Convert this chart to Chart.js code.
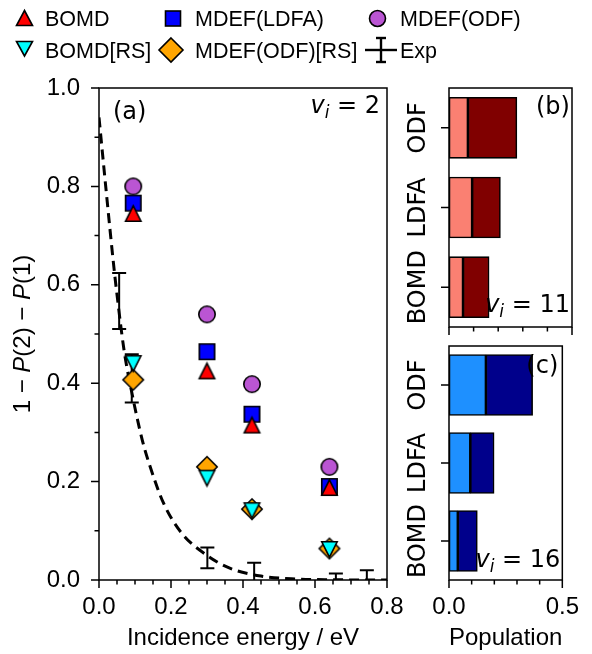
<!DOCTYPE html>
<html>
<head>
<meta charset="utf-8">
<script src="https://cdn.jsdelivr.net/npm/chart.js@4.4.0/dist/chart.umd.min.js"></script>
<style>
  html, body { margin: 0; padding: 0; background: #fff; }
  #wrap { position: relative; width: 592px; height: 654px; overflow: hidden; }
  canvas, svg { position: absolute; }
</style>
</head>
<body>
<div id="wrap">
  <canvas id="chartA" width="430" height="654" style="left:0;top:0"></canvas>
  <canvas id="chartB" width="212" height="340" style="left:380px;top:0"></canvas>
  <canvas id="chartC" width="212" height="324" style="left:380px;top:330px"></canvas>
  <svg width="592" height="70" style="left:0;top:0" font-family="Liberation Sans, Arial, sans-serif" font-size="21.5">
    <g stroke="#000" stroke-width="1.6" stroke-linejoin="miter">
      <polygon points="24.5,10.5 32.5,25.5 16.5,25.5" fill="#ff0000"/>
      <rect x="165.5" y="11" width="15" height="15" fill="#0000ff"/>
      <circle cx="377.5" cy="18.5" r="8" fill="#ba55d3"/>
      <polygon points="16.5,41.5 32.5,41.5 24.5,56" fill="#00ffff"/>
      <polygon points="171,38 183,50 171,62 159,50" fill="#ffa500"/>
    </g>
    <g stroke="#000" stroke-width="2.4">
      <line x1="365" y1="50" x2="397" y2="50"/>
      <line x1="381" y1="38" x2="381" y2="62"/>
      <line x1="376" y1="38" x2="386" y2="38"/>
      <line x1="376" y1="62" x2="386" y2="62"/>
    </g>
    <text x="45" y="26">BOMD</text>
    <text x="195" y="26">MDEF(LDFA)</text>
    <text x="400" y="26">MDEF(ODF)</text>
    <text x="45" y="57.5">BOMD[RS]</text>
    <text x="195" y="57.5">MDEF(ODF)[RS]</text>
    <text x="400" y="57.5">Exp</text>
  </svg>
</div>
<script>
  // (a) vibrational de-excitation vs incidence energy, v_i = 2
  const energies = [0.095, 0.30, 0.425, 0.64];
  const bomd = [0.745, 0.425, 0.315, 0.188];
  const mdefLdfa = [0.766, 0.464, 0.337, 0.19];
  const mdefOdf = [0.80, 0.54, 0.398, 0.23];
  const bomdRs = [0.44, 0.207, 0.141, 0.062];
  const mdefOdfRs = [0.407, 0.23, 0.144, 0.064];

  const expEnergy = [0.056, 0.091, 0.301, 0.431, 0.658, 0.744];
  const expValue = [0.567, 0.41, 0.045, 0.005, 0.001, 0.0];
  const expError = [0.057, 0.049, 0.021, 0.03, 0.012, 0.02];

  // dashed fit curve
  const fitEnergy = [0, 0.02, 0.04, 0.05, 0.07, 0.09, 0.12, 0.14, 0.18, 0.23, 0.30, 0.36, 0.45, 0.55, 0.65, 0.80];
  const fitValue = [0.94, 0.79, 0.645, 0.58, 0.465, 0.385, 0.285, 0.235, 0.155, 0.095, 0.05, 0.025, 0.008, 0.002, 0.0005, 0.0];

  // (b) v_i = 11 and (c) v_i = 16 populations
  const methods = ['ODF', 'LDFA', 'BOMD'];
  const popLight11 = [0.077, 0.094, 0.057];
  const popDark11 = [0.199, 0.115, 0.106];
  const popLight16 = [0.163, 0.094, 0.039];
  const popDark16 = [0.206, 0.105, 0.086];

  const SANS = '"Liberation Sans", Arial, sans-serif';
  const DEJA = '"DejaVu Sans", sans-serif';

  function marker(shape, fill, size) {
    const s = size + 4;
    const c = document.createElement('canvas');
    c.width = s; c.height = s;
    const g = c.getContext('2d');
    const m = s / 2, h = size / 2 - 0.8;
    g.beginPath();
    if (shape === 'circle') g.arc(m, m, h, 0, Math.PI * 2);
    else if (shape === 'square') g.rect(m - h, m - h, 2 * h, 2 * h);
    else if (shape === 'up') { g.moveTo(m, m - h); g.lineTo(m + h, m + h); g.lineTo(m - h, m + h); g.closePath(); }
    else if (shape === 'down') { g.moveTo(m - h, m - h); g.lineTo(m + h, m - h); g.lineTo(m, m + h); g.closePath(); }
    else { g.moveTo(m, m - h); g.lineTo(m + h, m); g.lineTo(m, m + h); g.lineTo(m - h, m); g.closePath(); }
    g.fillStyle = fill; g.fill();
    g.lineWidth = 1.6; g.strokeStyle = '#000'; g.stroke();
    return c;
  }

  function pts(xs, ys) { return xs.map((x, i) => ({ x: x, y: ys[i] })); }

  function richText(ctx, parts, x, y, align) {
    let w = 0;
    parts.forEach(p => { ctx.font = p.font; p.w = ctx.measureText(p.text).width; w += p.w; });
    let cx = align === 'right' ? x - w : align === 'center' ? x - w / 2 : x;
    ctx.textAlign = 'left';
    ctx.textBaseline = 'alphabetic';
    parts.forEach(p => { ctx.font = p.font; ctx.fillText(p.text, cx, y + (p.dy || 0)); cx += p.w; });
  }

  function viLabel(num) {
    return [
      { text: 'v', font: 'italic 24px ' + DEJA },
      { text: 'i', font: 'italic 17px ' + DEJA, dy: 5 },
      { text: ' = ' + num, font: '24px ' + DEJA }
    ];
  }

  // box around the plot area plus outward major/minor ticks
  const frame = {
    id: 'frame',
    afterDraw(chart, args, o) {
      const { ctx, chartArea: a } = chart;
      const xs = chart.scales.x, ys = chart.scales.y;
      ctx.save();
      ctx.strokeStyle = '#000';
      ctx.lineWidth = 1.5;
      ctx.strokeRect(a.left, a.top, a.right - a.left, a.bottom - a.top);
      ctx.beginPath();
      for (let v = xs.min; v <= xs.max + 1e-9; v += o.xMinor) {
        const r = v / o.xMajor, major = Math.abs(r - Math.round(r)) < 1e-6;
        const px = xs.getPixelForValue(v);
        ctx.moveTo(px, a.bottom); ctx.lineTo(px, a.bottom + (major ? 8 : 4.5));
      }
      if (ys.type === 'category') {
        ys.ticks.forEach((t, i) => {
          const py = ys.getPixelForValue(i);
          ctx.moveTo(a.left, py); ctx.lineTo(a.left - 8, py);
        });
      } else {
        for (let v = ys.min; v <= ys.max + 1e-9; v += o.yMinor) {
          const r = v / o.yMajor, major = Math.abs(r - Math.round(r)) < 1e-6;
          const py = ys.getPixelForValue(v);
          ctx.moveTo(a.left, py); ctx.lineTo(a.left - (major ? 8 : 4.5), py);
        }
      }
      ctx.stroke();
      ctx.restore();
    }
  };

  const errorBars = {
    id: 'errorBars',
    beforeDatasetsDraw(chart) {
      const { ctx, chartArea: a } = chart;
      const xs = chart.scales.x, ys = chart.scales.y;
      ctx.save();
      ctx.beginPath();
      ctx.rect(a.left, a.top, a.right - a.left, a.bottom - a.top);
      ctx.clip();
      ctx.strokeStyle = '#000';
      ctx.lineWidth = 2;
      ctx.beginPath();
      expEnergy.forEach((e, i) => {
        const px = xs.getPixelForValue(e);
        const top = ys.getPixelForValue(expValue[i] + expError[i]);
        const bot = ys.getPixelForValue(expValue[i] - expError[i]);
        ctx.moveTo(px, top); ctx.lineTo(px, bot);
        ctx.moveTo(px - 7, top); ctx.lineTo(px + 7, top);
        ctx.moveTo(px - 7, bot); ctx.lineTo(px + 7, bot);
      });
      ctx.stroke();
      ctx.restore();
    }
  };

  const labelsA = {
    id: 'labelsA',
    afterDraw(chart) {
      const { ctx, chartArea: a } = chart;
      ctx.save();
      ctx.fillStyle = '#000';
      richText(ctx, [{ text: '(a)', font: '24px ' + DEJA }], a.left + 14, 119, 'left');
      richText(ctx, viLabel('2'), a.right - 7, 113, 'right');
      ctx.translate(30, (a.top + a.bottom) / 2);
      ctx.rotate(-Math.PI / 2);
      const reg = '24px ' + SANS, ita = 'italic 24px ' + SANS;
      richText(ctx, [
        { text: '1 \u2212 ', font: reg }, { text: 'P', font: ita },
        { text: '(2) \u2212 ', font: reg }, { text: 'P', font: ita },
        { text: '(1)', font: reg }
      ], 0, 0, 'center');
      ctx.restore();
    }
  };

  function panelLabels(tag, vi, tagBase, viBase) {
    return {
      id: 'panel' + vi,
      afterDraw(chart) {
        const { ctx, chartArea: a } = chart;
        const ys = chart.scales.y;
        ctx.save();
        ctx.fillStyle = '#000';
        richText(ctx, [{ text: tag, font: '24px ' + DEJA }], a.right - 36, a.top + tagBase, 'left');
        richText(ctx, viLabel(vi), a.right - 2, a.top + viBase, 'right');
        methods.forEach((m, i) => {
          ctx.save();
          ctx.translate(a.left - 24, ys.getPixelForValue(i));
          ctx.rotate(-Math.PI / 2);
          richText(ctx, [{ text: m, font: '24px ' + DEJA }], 0, 0, 'center');
          ctx.restore();
        });
        ctx.restore();
      }
    };
  }

  const tickFont = { family: SANS, size: 24 };

  new Chart(document.getElementById('chartA'), {
    type: 'scatter',
    data: {
      datasets: [
        { label: 'BOMD[RS]', data: pts(energies, bomdRs), pointStyle: marker('down', '#00ffff', 17), order: 0 },
        { label: 'MDEF(ODF)[RS]', data: pts(energies, mdefOdfRs), pointStyle: marker('diamond', '#ffa500', 22), order: 1 },
        { label: 'BOMD', data: pts(energies, bomd), pointStyle: marker('up', '#ff0000', 17), order: 2 },
        { label: 'MDEF(LDFA)', data: pts(energies, mdefLdfa), pointStyle: marker('square', '#0000ff', 17), order: 3 },
        { label: 'MDEF(ODF)', data: pts(energies, mdefOdf), pointStyle: marker('circle', '#ba55d3', 18), order: 4 },
        {
          type: 'line', label: 'fit', data: pts(fitEnergy, fitValue), order: 5,
          borderColor: '#000', borderWidth: 3, borderDash: [10, 6], pointRadius: 0,
          cubicInterpolationMode: 'monotone', fill: false
        }
      ]
    },
    options: {
      responsive: false,
      animation: false,
      layout: { padding: { top: 88, right: 43, left: 0, bottom: 0 } },
      plugins: {
        legend: { display: false },
        tooltip: { enabled: false },
        frame: { xMinor: 0.05, xMajor: 0.2, yMinor: 0.1, yMajor: 0.2 }
      },
      elements: { point: { radius: 9 } },
      scales: {
        x: {
          type: 'linear', min: 0, max: 0.8,
          grid: { display: false, drawTicks: false },
          border: { display: false },
          ticks: { stepSize: 0.2, padding: 13, color: '#000', font: tickFont, maxRotation: 0,
                   callback: v => v.toFixed(1) },
          title: { display: true, text: 'Incidence energy / eV', color: '#000', font: tickFont,
                   padding: { top: 0, bottom: 1 } },
          afterFit(s) { s.height = 74; }
        },
        y: {
          type: 'linear', min: 0, max: 1,
          grid: { display: false, drawTicks: false },
          border: { display: false },
          ticks: { stepSize: 0.2, padding: 19, color: '#000', font: tickFont,
                   callback: v => v.toFixed(1) },
          afterFit(s) { s.width = 99; }
        }
      }
    },
    plugins: [frame, errorBars, labelsA]
  });

  function popChart(id, light, dark, cLight, cDark, showX, pad, xHeight, tag, vi, tagBase, viBase) {
    const bar = { borderColor: '#000', borderWidth: 1.6, borderSkipped: false, barThickness: 61 };
    new Chart(document.getElementById(id), {
      type: 'bar',
      data: {
        labels: methods,
        datasets: [
          Object.assign({ label: 'light', data: light, backgroundColor: cLight }, bar),
          Object.assign({ label: 'dark', data: dark, backgroundColor: cDark }, bar)
        ]
      },
      options: {
        indexAxis: 'y',
        responsive: false,
        animation: false,
        layout: { padding: pad },
        plugins: {
          legend: { display: false },
          tooltip: { enabled: false },
          frame: { xMinor: 0.1, xMajor: 0.5 }
        },
        scales: {
          x: {
            type: 'linear', min: 0, max: 0.5, stacked: true,
            grid: { display: false, drawTicks: false },
            border: { display: false },
            ticks: { display: showX, stepSize: 0.5, padding: 13, color: '#000', font: tickFont, maxRotation: 0,
                     callback: v => v.toFixed(1) },
            title: { display: showX, text: 'Population', color: '#000', font: tickFont,
                     padding: { top: 0, bottom: 1 } },
            afterFit(s) { s.height = xHeight; }
          },
          y: {
            stacked: true,
            grid: { display: false, drawTicks: false },
            border: { display: false },
            ticks: { display: false },
            afterFit(s) { s.width = 69; }
          }
        }
      },
      plugins: [frame, panelLabels(tag, vi, tagBase, viBase)]
    });
  }

  popChart('chartB', popLight11, popDark11, '#fa8072', '#800000', false,
           { top: 88, right: 20, left: 0, bottom: 0 }, 13, '(b)', '11', 26, 224);
  popChart('chartC', popLight16, popDark16, '#1e90ff', '#00008b', true,
           { top: 16, right: 20, left: 0, bottom: 0 }, 74, '(c)', '16', 27, 221);
</script>
</body>
</html>
